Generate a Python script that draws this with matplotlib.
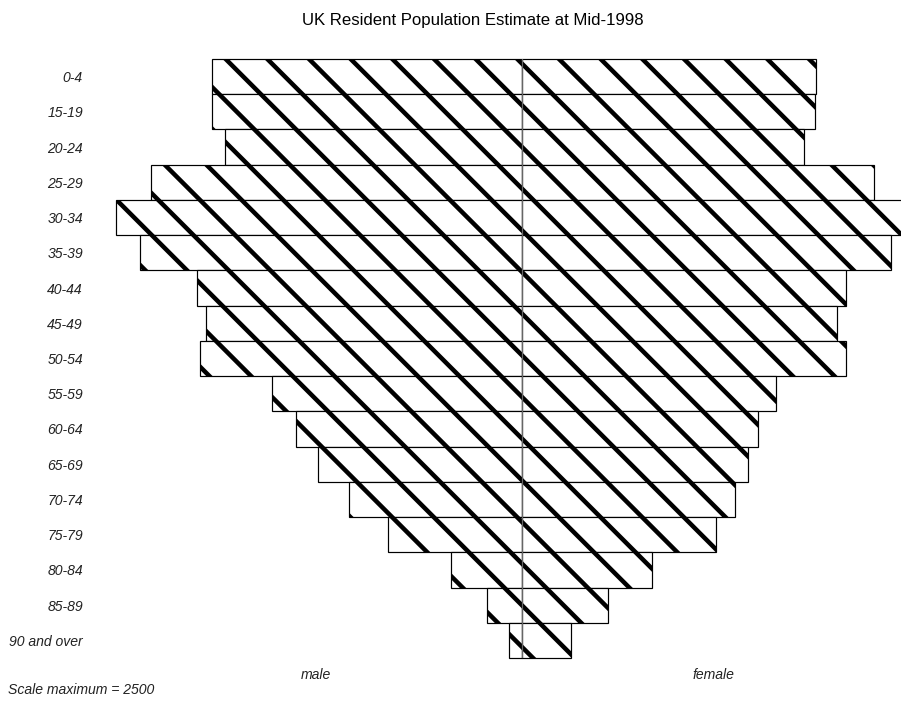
# UK population pyramid, mid-1998 (thousands)

import numpy as np
import matplotlib
matplotlib.use('Agg')
import matplotlib.pyplot as plt

age_groups = ['0-4', '15-19', '20-24', '25-29', '30-34', '35-39', '40-44',
              '45-49', '50-54', '55-59', '60-64', '65-69', '70-74', '75-79',
              '80-84', '85-89', '90 and over']
male = [1841, 1841, 1764, 2203, 2411, 2268, 1930, 1876, 1912,
        1485, 1342, 1211, 1027, 796, 422, 208, 77]
female = [1746, 1740, 1674, 2090, 2330, 2191, 1924, 1870, 1924,
          1508, 1401, 1342, 1265, 1152, 772, 511, 291]
scale_max = 2500

# high dpi so the hatch gives wide spacing
DPI = 250
W, H = 901, 702
pt = 72.0 / DPI  # points per pixel

plt.rcParams['font.family'] = ['Liberation Sans', 'DejaVu Sans']
plt.rcParams['hatch.linewidth'] = 4.5 * pt

fig = plt.figure(figsize=(W / DPI, H / DPI), dpi=DPI)
# axes run past the right edge, like the original
ax = fig.add_axes([101 / W, 44 / H, 842 / W, 599 / H])

y = np.arange(len(age_groups))
for vals in (-np.array(male), np.array(female)):
    bars = ax.barh(y, vals, height=1.0, color='white', edgecolor='black',
                   hatch='\\\\', linewidth=1.2 * pt)
    for b in bars:
        b.set_clip_on(False)
ax.axvline(0, color='#666666', linewidth=1.2 * pt)

ax.set_xlim(-scale_max, scale_max)
ax.set_ylim(len(age_groups) - 0.5, -0.5)
ax.set_xticks([])
ax.set_yticks(y)
ax.set_yticklabels(age_groups, fontstyle='italic', fontsize=14 * pt, color='#222222')
ax.tick_params(axis='y', length=0, pad=18 * pt)
for s in ax.spines.values():
    s.set_visible(False)

fig.text(473 / W, 1 - 20 / H, 'UK Resident Population Estimate at Mid-1998',
         ha='center', va='center', fontsize=16.8 * pt)
fig.text(316 / W, 1 - 675 / H, 'male', ha='center', va='center',
         fontstyle='italic', fontsize=14 * pt, color='#222222')
fig.text(713 / W, 1 - 675 / H, 'female', ha='center', va='center',
         fontstyle='italic', fontsize=14 * pt, color='#222222')
fig.text(8 / W, 1 - 690 / H, 'Scale maximum = %d' % scale_max, ha='left', va='center',
         fontstyle='italic', fontsize=14 * pt, color='#222222')

fig.savefig('out.png', dpi=DPI)
